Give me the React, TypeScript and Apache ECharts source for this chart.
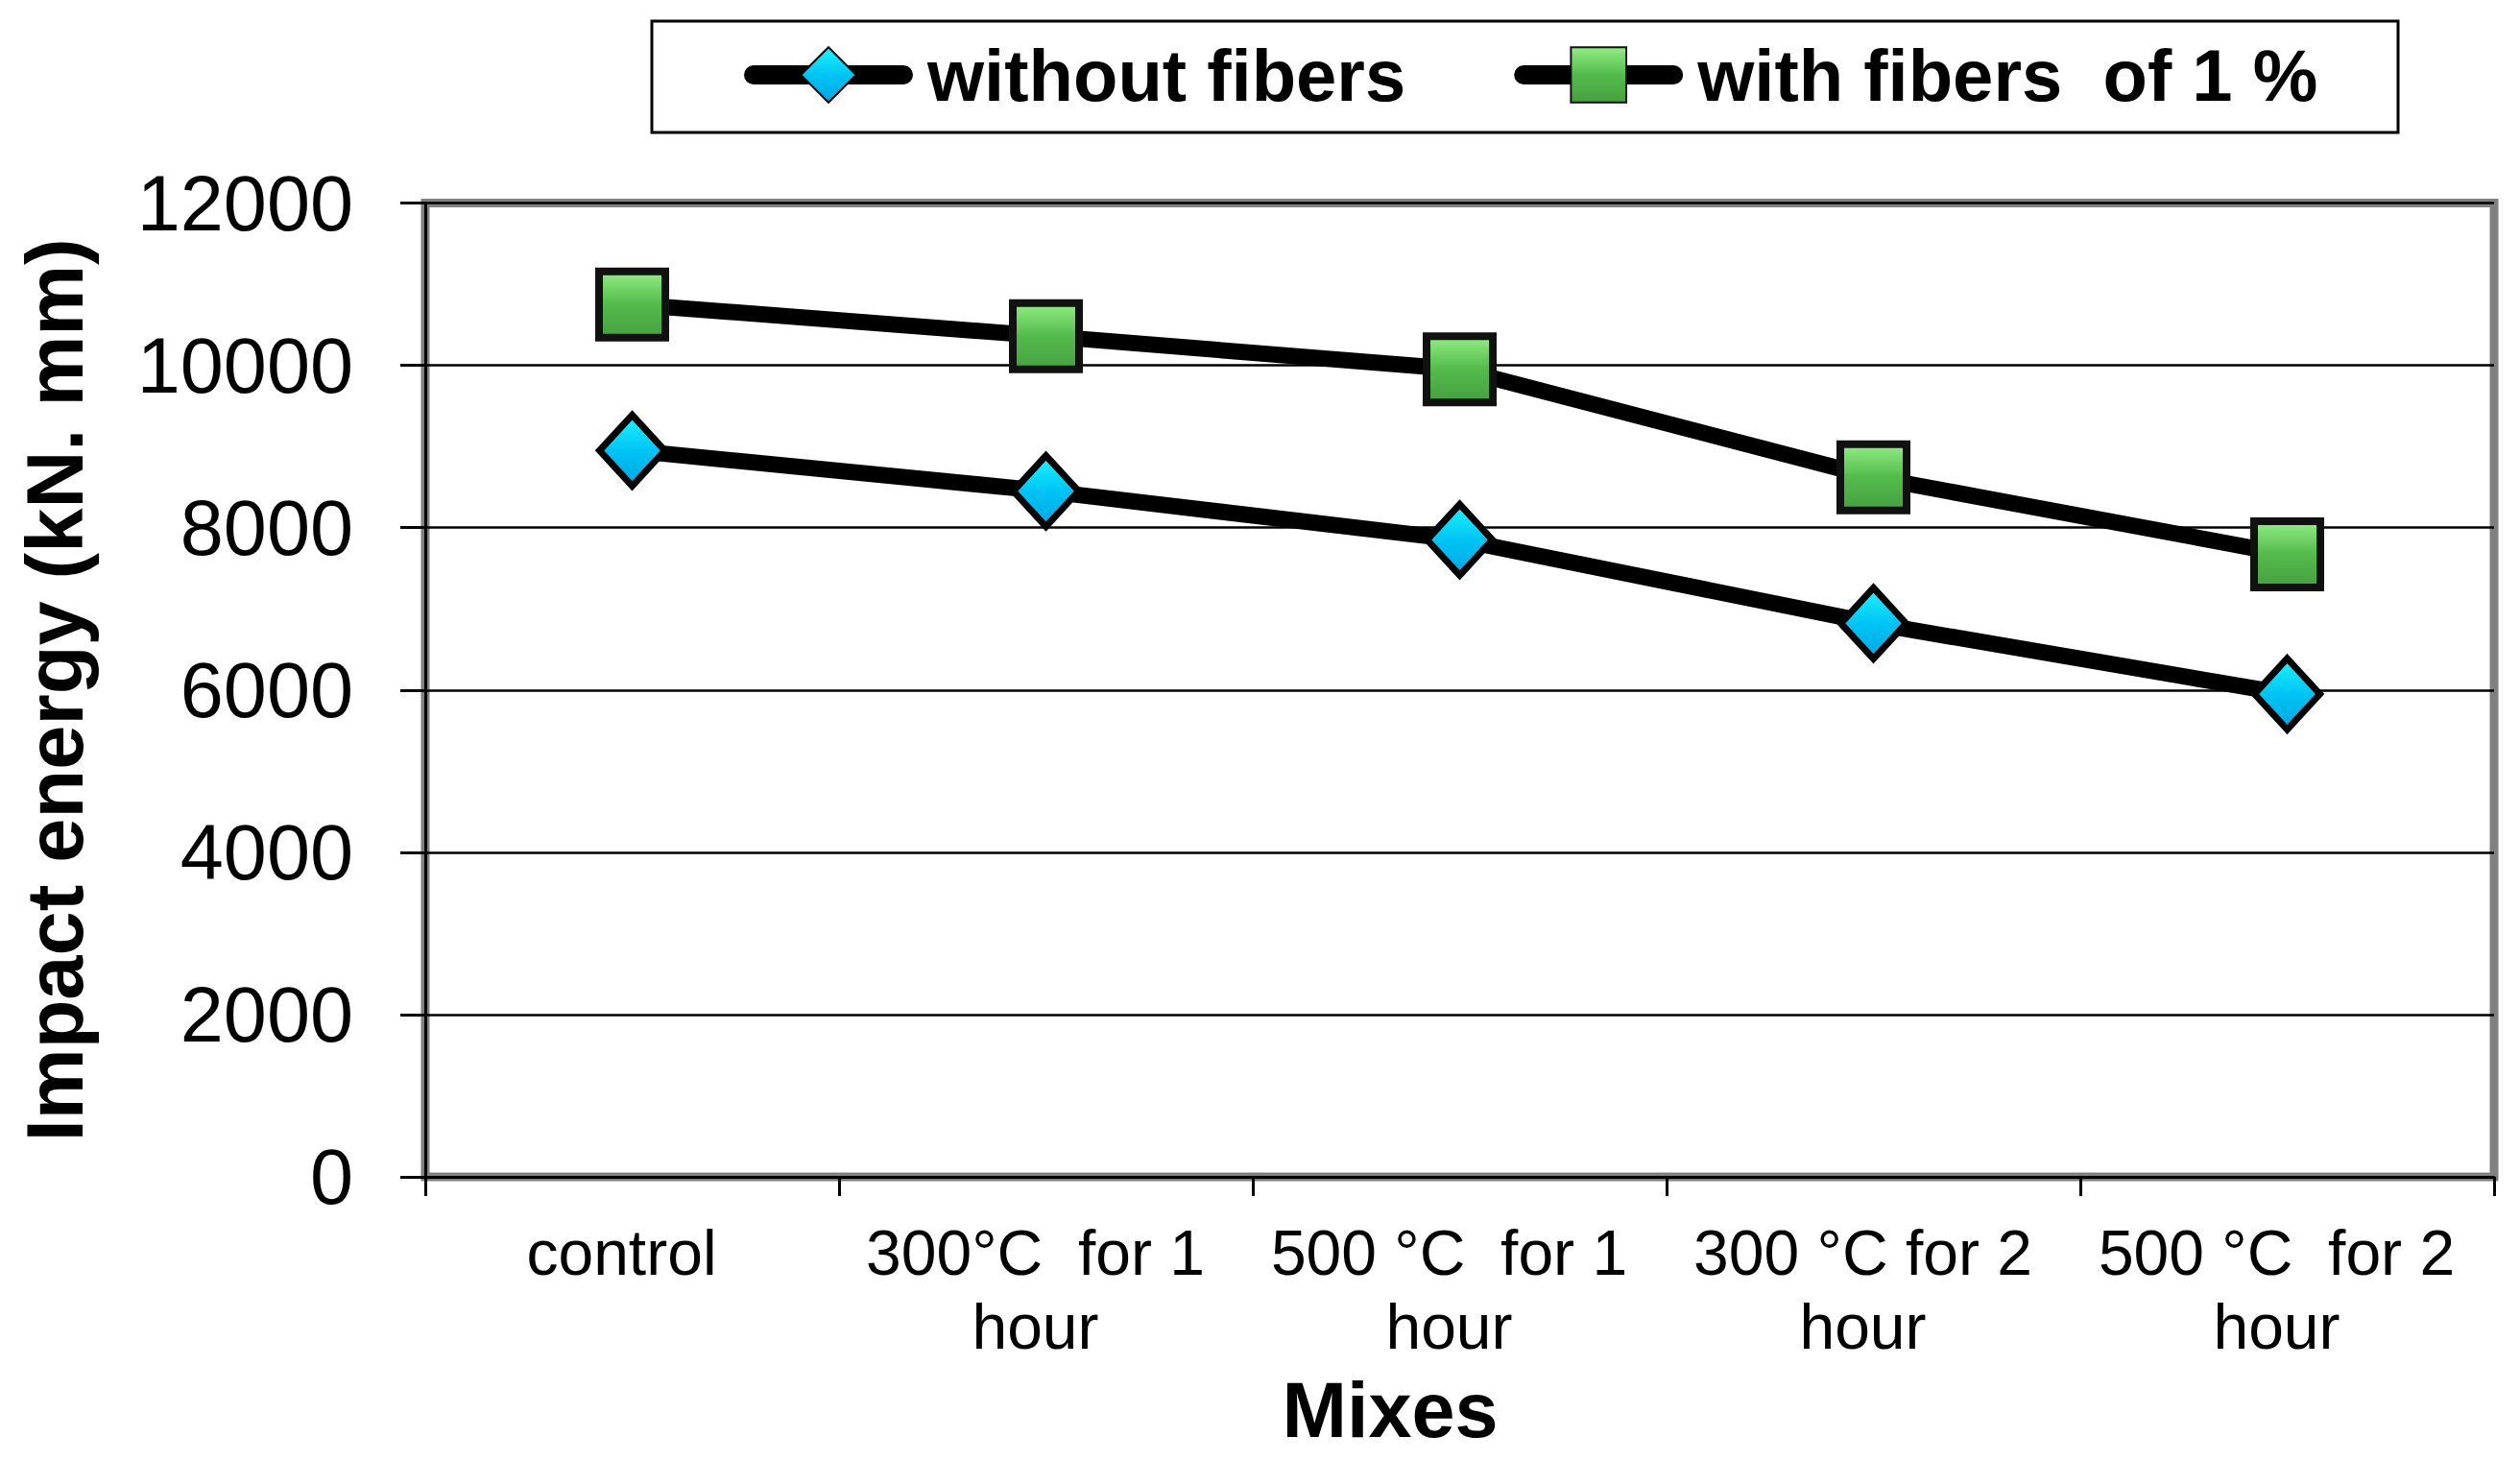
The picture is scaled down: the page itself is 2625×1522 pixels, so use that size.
import React, { useEffect, useRef } from "react";
import * as echarts from "echarts";

const categories = [
  "control",
  "300°C  for 1\nhour",
  "500 °C  for 1\nhour",
  "300 °C for 2\nhour",
  "500 °C  for 2\nhour",
];
const withoutFibers = [8950, 8450, 7850, 6820, 5950];
const withFibers = [10750, 10360, 9950, 8620, 7670];
const seriesNames = ["without fibers", "with fibers  of 1 %"];
const yTicks = { min: 0, max: 12000, interval: 2000 };

const FONT = "'Liberation Sans', Arial, sans-serif";

export default function App() {
  const ref = useRef<HTMLDivElement>(null);
  useEffect(() => {
    if (!ref.current) return;
    const chart = echarts.init(ref.current, null, { renderer: "svg" });
    const blue = new echarts.graphic.LinearGradient(0, 0, 0, 1, [
      { offset: 0, color: "#20F4FF" },
      { offset: 0.5, color: "#00C4F4" },
      { offset: 1, color: "#00A6E2" },
    ]);
    const green = new echarts.graphic.LinearGradient(0, 0, 0, 1, [
      { offset: 0, color: "#92EE84" },
      { offset: 0.5, color: "#54BA4C" },
      { offset: 1, color: "#46A040" },
    ]);
    chart.setOption({
      animation: false,
      backgroundColor: "#ffffff",
      textStyle: { fontFamily: FONT, color: "#000" },
      graphic: [
        {
          type: "rect",
          shape: { x: 671, y: 14, width: 1819, height: 116 },
          style: { fill: "none", stroke: "#000", lineWidth: 3 },
          z: 0,
        },
      ],
      legend: {
        left: 762,
        top: 27,
        itemWidth: 156,
        itemHeight: 72,
        itemGap: 113,
        lineStyle: { width: 20, color: "#000", cap: "round" },
        textStyle: {
          fontFamily: FONT,
          fontSize: 76,
          lineHeight: 76,
          fontWeight: "bold",
          color: "#000",
          padding: [0, 0, 0, 20],
        },
        data: seriesNames,
      },
      grid: {
        left: 433.5,
        right: 19,
        top: 203.5,
        bottom: 286,
        show: true,
        borderColor: "#808080",
        borderWidth: 9,
        backgroundColor: "transparent",
      },
      xAxis: {
        type: "category",
        data: categories,
        boundaryGap: true,
        name: "Mixes",
        nameLocation: "middle",
        nameGap: 202,
        nameTextStyle: {
          fontFamily: FONT,
          fontSize: 81,
          fontWeight: "bold",
          color: "#000",
          padding: [0, 145, 0, 0],
        },
        axisLine: { show: true, lineStyle: { color: "#000", width: 3 } },
        axisTick: { show: true, length: 20, inside: false, lineStyle: { color: "#000", width: 3 } },
        axisLabel: {
          fontFamily: FONT,
          fontSize: 66,
          lineHeight: 77,
          color: "#000",
          margin: 40,
          interval: 0,
          padding: [0, 22, 0, 0],
        },
        splitLine: { show: false },
      },
      yAxis: {
        type: "value",
        min: yTicks.min,
        max: yTicks.max,
        interval: yTicks.interval,
        name: "Impact energy (kN. mm)",
        nameLocation: "middle",
        nameGap: 344,
        nameTextStyle: { fontFamily: FONT, fontSize: 83, fontWeight: "bold", color: "#000" },
        axisLine: { show: true, lineStyle: { color: "#000", width: 3 } },
        axisTick: { show: true, length: 26, inside: false, lineStyle: { color: "#000", width: 3 } },
        axisLabel: {
          fontFamily: FONT,
          fontSize: 81,
          color: "#000",
          margin: 75,
          formatter: (v: number) => String(v),
        },
        splitLine: { show: true, lineStyle: { color: "#000", width: 2.5 } },
      },
      series: [
        {
          name: seriesNames[0],
          type: "line",
          data: withoutFibers,
          symbol: "diamond",
          symbolSize: [68, 74],
          lineStyle: { color: "#000", width: 17 },
          itemStyle: { color: blue, borderColor: "#000", borderWidth: 7 },
          z: 3,
        },
        {
          name: seriesNames[1],
          type: "line",
          data: withFibers,
          symbol: "rect",
          symbolSize: [69, 69],
          lineStyle: { color: "#000", width: 17 },
          itemStyle: { color: green, borderColor: "#111", borderWidth: 8 },
          z: 3,
        },
      ],
    });
    return () => chart.dispose();
  }, []);
  return <div ref={ref} style={{ width: 2609, height: 1506 }} />;
}
